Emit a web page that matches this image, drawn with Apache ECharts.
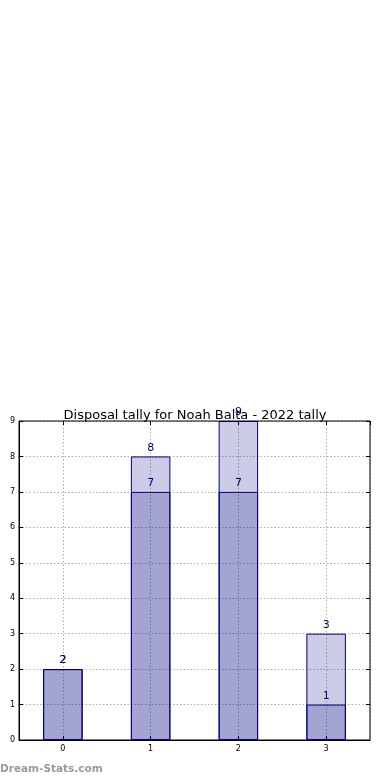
<!DOCTYPE html>
<html><head><meta charset="utf-8">
<script src="https://cdn.jsdelivr.net/npm/echarts@6/dist/echarts.min.js"></script>
<style>html,body{margin:0;padding:0;background:#fff}#c{width:390px;height:780px}</style>
</head><body><div id="c"></div>
<script>
const categories = ['0', '1', '2', '3'];
const totalValues = [2, 8, 9, 3];
const innerValues = [2, 7, 7, 1];
const yTicks = [0, 1, 2, 3, 4, 5, 6, 7, 8, 9];

const chart = echarts.init(document.getElementById('c'));
const font = 'DejaVu Sans';
const gridLine = { show: true, lineStyle: { color: 'rgba(0,0,0,0.32)', type: [1.5, 2], width: 1 } };
chart.setOption({
  animation: false,
  title: {
    text: 'Disposal tally for Noah Balta - 2022 tally',
    left: 'center', top: 404,
    textStyle: { fontFamily: font, fontSize: 13, fontWeight: 'normal', color: '#000' }
  },
  graphic: [{
    type: 'text', left: 0, top: 764,
    style: { text: 'Dream-Stats.com', fill: '#999999', font: 'bold 10.5px "DejaVu Sans"' }
  }],
  grid: { left: 19, right: 20, top: 421, bottom: 40, show: true, borderColor: '#000', borderWidth: 1, backgroundColor: 'transparent' },
  xAxis: [
    { type: 'category', data: categories, show: false, boundaryGap: true },
    { type: 'value', min: -0.5, max: 3.5, splitNumber: 4, position: 'bottom', z: 3,
      axisLine: { show: true, onZero: false, lineStyle: { color: '#000' } },
      axisTick: { show: true, inside: true, length: 4, lineStyle: { color: '#000' } },
      axisLabel: { fontFamily: font, fontSize: 8, color: '#000', margin: 5, showMinLabel: false, showMaxLabel: false,
        formatter: v => Number.isInteger(v) ? categories[v] : '' },
      splitLine: gridLine },
    { type: 'value', min: -0.5, max: 3.5, splitNumber: 4, position: 'top', z: 3,
      axisLine: { show: false, onZero: false },
      axisTick: { show: true, inside: true, length: 4, lineStyle: { color: '#000' } },
      axisLabel: { show: false }, splitLine: { show: false } }
  ],
  yAxis: [
    { type: 'value', min: 0, max: 9, interval: 1, z: 3,
      axisLine: { show: true, onZero: false, lineStyle: { color: '#000' } },
      axisTick: { show: true, inside: true, length: 4, lineStyle: { color: '#000' } },
      axisLabel: { fontFamily: font, fontSize: 8, color: '#000', margin: 4,
        formatter: v => String(yTicks[v]) },
      splitLine: gridLine },
    { type: 'value', min: 0, max: 9, interval: 1, position: 'right', z: 3,
      axisLine: { show: false, onZero: false },
      axisTick: { show: true, inside: true, length: 4, lineStyle: { color: '#000' } },
      axisLabel: { show: false }, splitLine: { show: false } }
  ],
  series: [
    { type: 'bar', xAxisIndex: 0, yAxisIndex: 0, data: totalValues, barWidth: '45%', barGap: '-100%', z: 1,
      itemStyle: { color: 'rgba(0,0,128,0.2)', borderColor: '#000080', borderWidth: 1 },
      label: { show: true, position: 'top', distance: 3, color: '#000080', fontFamily: font, fontSize: 11 } },
    { type: 'bar', xAxisIndex: 0, yAxisIndex: 0, data: innerValues, barWidth: '45%', barGap: '-100%', z: 2,
      itemStyle: { color: 'rgba(0,0,128,0.2)', borderColor: '#000080', borderWidth: 1 },
      label: { show: true, position: 'top', distance: 3, color: '#000080', fontFamily: font, fontSize: 11 } }
  ]
});
</script></body></html>
